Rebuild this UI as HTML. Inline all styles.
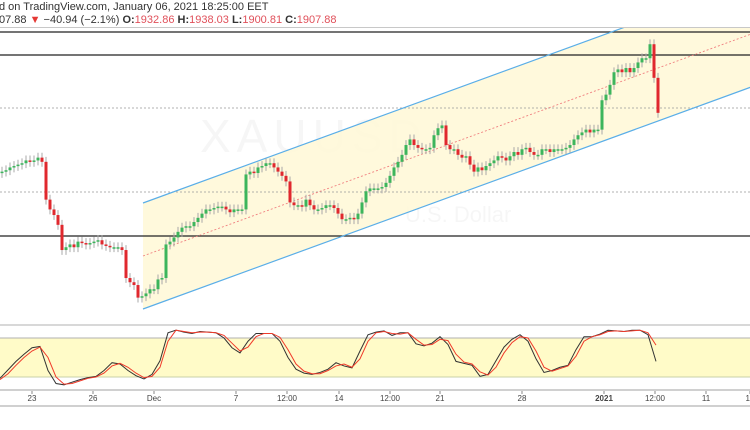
<!DOCTYPE html>
<html><head><meta charset="utf-8"><style>
html,body{margin:0;padding:0;background:#fff;width:750px;height:430px;overflow:hidden;font-family:"Liberation Sans",sans-serif}
</style></head><body>
<svg id="chart" width="750" height="430" viewBox="0 0 750 430" xmlns="http://www.w3.org/2000/svg" font-family="Liberation Sans, sans-serif">
<text x="-1" y="10" font-size="11" fill="#333">d on TradingView.com, January 06, 2021 18:25:00 EET</text>
<text x="-1" y="23" font-size="11" fill="#333">07.88 <tspan fill="#e53935">▼</tspan> −40.94 (−2.1%) <tspan font-weight="bold">O:</tspan><tspan fill="#e0505a">1932.86</tspan> <tspan font-weight="bold">H:</tspan><tspan fill="#e0505a">1938.03</tspan> <tspan font-weight="bold">L:</tspan><tspan fill="#e0505a">1900.81</tspan> <tspan font-weight="bold">C:</tspan><tspan fill="#e0505a">1907.88</tspan></text>
<line x1="0" y1="27.5" x2="750" y2="27.5" stroke="#c8c8c8" stroke-width="1"/>
<defs><clipPath id="mainclip"><rect x="0" y="28" width="750" height="295"/></clipPath></defs>
<g id="main" clip-path="url(#mainclip)"></g>
<g id="stoch"></g>
<g id="axis"></g>
</svg>
<script>
const closes=[1866,1867,1869,1870,1871,1872,1874,1873,1874,1876,1873,1846,1839,1835,1828,1810,1812,1814,1812,1816,1815,1814,1815,1816,1817,1814,1813,1812,1812,1812,1810,1790,1787,1785,1776,1777,1779,1782,1782,1789,1790,1814,1816,1819,1823,1826,1827,1827,1830,1833,1836,1839,1839,1840,1841,1841,1839,1837,1839,1839,1839,1864,1866,1865,1869,1870,1872,1872,1869,1866,1863,1859,1844,1842,1842,1841,1846,1842,1839,1839,1840,1842,1842,1840,1836,1832,1832,1833,1832,1836,1844,1852,1854,1854,1854,1855,1858,1863,1869,1873,1878,1885,1889,1885,1883,1882,1882,1883,1892,1897,1899,1885,1882,1882,1878,1876,1877,1871,1866,1869,1867,1870,1872,1874,1877,1876,1874,1877,1880,1878,1882,1883,1880,1878,1878,1882,1882,1880,1882,1882,1882,1883,1885,1889,1892,1894,1896,1894,1896,1896,1917,1921,1928,1937,1939,1937,1940,1937,1940,1944,1947,1947,1957,1933,1908];
const stochK=[18,31,44,55,65,67,30,10,8,12,16,19,21,30,42,40,30,22,17,24,45,88,92,89,87,90,89,88,80,65,57,75,87,87,87,75,50,32,26,24,27,32,42,37,34,60,85,89,91,84,88,88,71,68,72,82,70,44,41,38,21,24,45,66,78,85,75,48,27,30,35,38,62,82,82,86,92,91,90,92,92,85,44];
const stochD=[16,25,38,50,60,66,50,20,9,10,14,18,20,26,37,41,35,26,19,21,35,75,92,90,88,89,89,88,84,72,60,66,82,87,87,81,62,40,29,25,25,30,37,40,35,48,75,88,90,87,86,88,78,69,70,78,76,55,43,40,28,23,35,57,73,82,80,60,35,29,33,37,52,75,82,85,90,91,90,91,92,88,69];
const tickLabels=["23","26","Dec","7","12:00","14","12:00","21","28","2021","12:00","11","12"];
const tickIdx=[7.5,22.75,38,58.5,71.25,84.25,97,109.5,130,150.5,163.25,176,187];
const NS="http://www.w3.org/2000/svg";
const px=i=>2+i*4;
const py=p=>113-(p-1907.88)*1.4;
const sy=v=>390-v*0.65;
const sx=i=>i*8;
function mk(t,a,parent){const e=document.createElementNS(NS,t);for(const k in a)e.setAttribute(k,a[k]);parent.appendChild(e);return e;}
const main=document.getElementById('main');
let w=mk('text',{x:200,y:152,'font-size':46,fill:'#000','fill-opacity':0.035,'letter-spacing':6},main);w.textContent='XAUUSD';


let w2=mk('text',{x:405,y:222,'font-size':22,fill:'#000','fill-opacity':0.035},main);w2.textContent='U.S. Dollar';


const slope=-0.365,x0=143,lowY0=309,upY0=203,midY0=256;
const chY=(b,x)=>b+slope*(x-x0);
let ch=mk('polygon',{points:`${x0},${chY(upY0,x0)} 760,${chY(upY0,760)} 760,${chY(lowY0,760)} ${x0},${chY(lowY0,x0)}`,fill:'#fff8d6','fill-opacity':0.85},main);


[[32,'#222',1.2,null],[55,'#222',1.2,null],[236,'#222',1.2,null],[108,'#999',0.8,'2,2'],[192,'#999',0.8,'2,2']].forEach(l=>{
 const a={x1:0,x2:750,y1:l[0],y2:l[0],stroke:l[1],'stroke-width':l[2]};if(l[3])a['stroke-dasharray']=l[3];
 const e=mk('line',a,main);
 
 
});
[[upY0,'#5aaee8',null,1.2],[lowY0,'#5aaee8',null,1.2],[midY0,'#f08080','2,2',0.9]].forEach(l=>{
 const a={x1:x0,y1:l[0],x2:760,y2:chY(l[0],760),stroke:l[1],'stroke-width':l[3]};if(l[2])a['stroke-dasharray']=l[2];
 const e=mk('line',a,main);
 
 
});
for(let i=0;i<closes.length;i++){
 const c=closes[i],o=i?closes[i-1]:c-1;
 const up=c>=o,hi=Math.max(o,c)+3.5,lo=Math.min(o,c)-3.5;
 const x=px(i);
 const wk=mk('line',{x1:x,x2:x,y1:py(hi),y2:py(lo),stroke:'#a8a8a8','stroke-width':1},main);
 
 
 const top=py(Math.max(o,c)),h=Math.max(1.5,Math.abs(py(o)-py(c)));
 const b=mk('rect',{x:x-1.5,y:top,width:3,height:h,fill:up?'#3cb55c':'#e0282e'},main);
 
 
}
const st=document.getElementById('stoch');
let band=mk('rect',{x:0,y:sy(80),width:750,height:sy(20)-sy(80),fill:'#fffbc8'},st);


[[sy(100),'#b0b0b0'],[sy(80),'#b0b0b0'],[sy(20),'#c8d0a8']].forEach(l=>{
 const e=mk('line',{x1:0,x2:750,y1:l[0],y2:l[0],stroke:l[1],'stroke-width':1},st);
 
 
});
const pl=(arr,col,name)=>{const e=mk('polyline',{points:arr.map((v,i)=>sx(i)+','+sy(v)).join(' '),fill:'none',stroke:col,'stroke-width':1},st);
 
 };
pl(stochK,'#333','stochastic-k-line');
pl(stochD,'#f03a2a','stochastic-d-line');
const ax=document.getElementById('axis');
let al=mk('line',{x1:0,x2:750,y1:390,y2:390,stroke:'#c0c0c0','stroke-width':1.5},ax);


let bl=mk('line',{x1:0,x2:750,y1:406,y2:406,stroke:'#a0a0a0','stroke-width':1},ax);


tickLabels.forEach((t,i)=>{
 const x=px(tickIdx[i]);
 const tk=mk('line',{x1:x,x2:x,y1:391,y2:394,stroke:'#888'},ax);
 
 
 const e=mk('text',{x:x,y:401,'font-size':8,fill:'#444','text-anchor':'middle','font-weight':t=='2021'?'bold':'normal'},ax);
 e.textContent=t;
 
 
});
</script>
</body></html>
